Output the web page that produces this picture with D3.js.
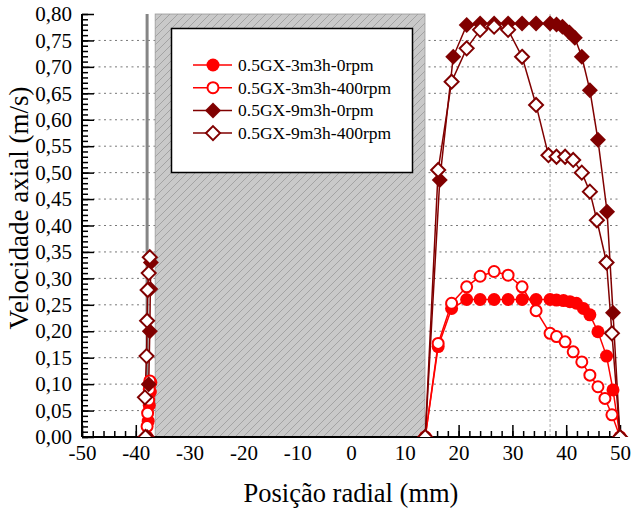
<!DOCTYPE html>
<html><head><meta charset="utf-8">
<script src="https://cdn.jsdelivr.net/npm/d3@7"></script>
<style>body{margin:0;background:#fff} svg text{font-family:"Liberation Serif","Times New Roman",Times,serif;}</style>
</head><body>
<svg id="chart" width="638" height="510"></svg>
<script>
const seriesNames = ["0.5GX-3m3h-0rpm","0.5GX-3m3h-400rpm","0.5GX-9m3h-0rpm","0.5GX-9m3h-400rpm"];
const xTickValues = [-50,-40,-30,-20,-10,0,10,20,30,40,50];
const yTickValues = [0,0.05,0.10,0.15,0.20,0.25,0.30,0.35,0.40,0.45,0.50,0.55,0.60,0.65,0.70,0.75,0.80];
const gridY = [0.05,0.10,0.15,0.20,0.25,0.30,0.35,0.40,0.45,0.50,0.55,0.60,0.65,0.70,0.75];
const gridX = [37];
const wallX = -37.9;
const solidRegion = [-36.4, 13.75];

const s1Left = [[-37.9,0],[-37.7,0.03],[-37.5,0.06],[-37.3,0.085],[-37.2,0.103]];
const s2Left = [[-38.0,0],[-37.9,0.02],[-37.8,0.045],[-37.6,0.07],[-37.5,0.09],[-37.4,0.106]];
const s3Left = [[-37.9,0],[-37.6,0.1],[-37.4,0.2],[-37.3,0.28],[-37.2,0.33]];
const s4Left = [[-38.2,0],[-38.3,0.075],[-38.0,0.153],[-37.9,0.22],[-37.8,0.278],[-37.6,0.31],[-37.4,0.34]];

const s1Right = [[13.8,0],[16.2,0.171],[18.7,0.243],[21.5,0.260],[24.0,0.260],[26.6,0.260],[29.2,0.260],[31.8,0.260],[34.4,0.260],[37.0,0.260],[38.2,0.259],[39.5,0.258],[40.7,0.256],[41.9,0.253],[43.2,0.243],[44.4,0.231],[45.9,0.199],[47.5,0.153],[48.7,0.089],[50,0]];
const s2Right = [[13.8,0],[16.2,0.177],[18.7,0.253],[21.5,0.284],[24.0,0.304],[26.6,0.313],[29.2,0.306],[31.8,0.284],[34.4,0.239],[37.0,0.196],[38.2,0.190],[39.8,0.180],[41.3,0.161],[42.9,0.142],[44.4,0.117],[45.9,0.095],[47.2,0.073],[48.5,0.042],[50,0]];
const s3Right = [[13.8,0],[16.5,0.486],[19.0,0.719],[21.5,0.779],[24.0,0.782],[26.6,0.782],[29.2,0.782],[31.8,0.782],[34.4,0.782],[37.0,0.782],[38.2,0.780],[39.3,0.776],[40.6,0.765],[41.6,0.755],[42.9,0.719],[44.4,0.656],[45.9,0.562],[47.6,0.426],[48.7,0.235],[50,0]];
const s4Right = [[13.8,0],[16.2,0.505],[18.7,0.672],[21.5,0.735],[24.0,0.770],[26.6,0.776],[29.2,0.770],[31.8,0.719],[34.4,0.628],[36.7,0.533],[38.2,0.530],[39.8,0.530],[41.3,0.524],[42.9,0.500],[44.4,0.464],[45.7,0.410],[47.5,0.330],[48.5,0.196],[50,0]];

const svg = d3.select("#chart");
const L = 82, R = 620, T = 14, B = 437;
const x = d3.scaleLinear().domain([-50,50]).range([L,R]);
const y = d3.scaleLinear().domain([0,0.8]).range([B,T]);
const font = '"Liberation Serif","Times New Roman",Times,serif';

const defs = svg.append("defs");
const pat = defs.append("pattern").attr("id","hatch").attr("patternUnits","userSpaceOnUse").attr("width",8).attr("height",8);
pat.append("rect").attr("width",8).attr("height",8).attr("fill","#c9c9c9");
pat.append("path").attr("d","M0,8 L8,0 M-2,2 L2,-2 M6,10 L10,6").attr("stroke","#a3a3a3").attr("stroke-width",1);
defs.append("clipPath").attr("id","plotclip").append("rect").attr("x",L).attr("y",T-10).attr("width",R-L+10).attr("height",B-T+10);

// grid
svg.append("g").selectAll("line").data(gridY).join("line")
  .attr("x1",L).attr("x2",R).attr("y1",d=>y(d)).attr("y2",d=>y(d))
  .attr("stroke","#777").attr("stroke-width",1).attr("stroke-dasharray","2,3.5");
svg.append("g").selectAll("line").data(gridX).join("line")
  .attr("x1",d=>x(d)).attr("x2",d=>x(d)).attr("y1",T).attr("y2",B)
  .attr("stroke","#aaa").attr("stroke-width",1).attr("stroke-dasharray","3,2");

// axes
const xMinor = d3.range(-50,51,2);
const yMinor = d3.range(0,81,1).map(d=>d/100);
const gxm = svg.append("g").attr("transform",`translate(0,${B})`)
  .call(d3.axisBottom(x).tickValues(xMinor).tickSize(-6).tickFormat(""));
const gx = svg.append("g").attr("transform",`translate(0,${B})`)
  .call(d3.axisBottom(x).tickValues(xTickValues).tickSize(-12).tickPadding(8).tickFormat(d=>String(d)));
const gym = svg.append("g").attr("transform",`translate(${L},0)`)
  .call(d3.axisLeft(y).tickValues(yMinor).tickSize(-6).tickFormat(""));
const gy = svg.append("g").attr("transform",`translate(${L},0)`)
  .call(d3.axisLeft(y).tickValues(yTickValues).tickSize(-12).tickPadding(10).tickFormat(d=>d3.format(".2f")(d).replace(".",",")));
[gxm,gx,gym,gy].forEach(g=>{
  g.attr("font-family",null).attr("font-size",null);
  g.selectAll(".domain").remove();
  g.selectAll(".tick line").attr("stroke","#000").attr("stroke-width",1.5);
  g.selectAll("text").style("font-family",font).style("font-size","21px").attr("fill","#000");
});

// solid region and wall
svg.append("rect").attr("x",x(solidRegion[0])).attr("y",T).attr("width",x(solidRegion[1])-x(solidRegion[0])).attr("height",B-T)
  .attr("fill","url(#hatch)").attr("stroke","#999").attr("stroke-width",0.8);
svg.append("line").attr("x1",x(wallX)).attr("x2",x(wallX)).attr("y1",T).attr("y2",B).attr("stroke","#858585").attr("stroke-width",3);

// axis lines
svg.append("line").attr("x1",L).attr("x2",R).attr("y1",B).attr("y2",B).attr("stroke","#000").attr("stroke-width",2);
svg.append("line").attr("x1",L).attr("x2",L).attr("y1",T).attr("y2",B).attr("stroke","#000").attr("stroke-width",2);

// series
const red = "#ff0000", dark = "#800000";
const series = [
  {name:seriesNames[0], parts:[s1Left,s1Right], color:red, shape:"circle", fill:true},
  {name:seriesNames[1], parts:[s2Left,s2Right], color:red, shape:"circle", fill:false},
  {name:seriesNames[2], parts:[s3Left,s3Right], color:dark, shape:"diamond", fill:true},
  {name:seriesNames[3], parts:[s4Left,s4Right], color:dark, shape:"diamond", fill:false}
];
const line = d3.line().x(d=>x(d[0])).y(d=>y(d[1]));
const circ = d3.symbol().type(d3.symbolCircle).size(Math.PI*6.5*6.5)();
const circO = d3.symbol().type(d3.symbolCircle).size(Math.PI*5.5*5.5)();
const diam = "M0,-8L8,0L0,8L-8,0Z";
const diamO = "M0,-7L7,0L0,7L-7,0Z";
function marker(g, s, px, py){
  const p = s.shape==="circle" ? (s.fill?circ:circO) : (s.fill?diam:diamO);
  g.append("path").attr("d",p).attr("transform",`translate(${px},${py})`)
    .attr("fill", s.fill ? s.color : "#fff").attr("stroke", s.color).attr("stroke-width", s.fill?0:2);
}
const plot = svg.append("g").attr("clip-path","url(#plotclip)");
series.forEach(s=>{
  s.parts.forEach(pts=>{
    plot.append("path").attr("d",line(pts)).attr("fill","none").attr("stroke",s.color).attr("stroke-width",1.5);
  });
});
series.forEach(s=>{
  s.parts.forEach(pts=>{
    pts.forEach(d=>marker(plot, s, x(d[0]), y(d[1])));
  });
});

// legend
const lg = svg.append("g");
lg.append("rect").attr("x",171.5).attr("y",28.5).attr("width",241).attr("height",144).attr("fill","#fff").attr("stroke","#000").attr("stroke-width",1.5);
series.forEach((s,i)=>{
  const cy = 65 + i*22.7;
  lg.append("line").attr("x1",193).attr("x2",232).attr("y1",cy).attr("y2",cy).attr("stroke",s.color).attr("stroke-width",1.5);
  marker(lg, s, 213, cy);
  lg.append("text").attr("x",238).attr("y",cy+6).style("font-family",font).style("font-size","17.5px").attr("fill","#000").text(s.name);
});

// titles
svg.append("text").attr("x",351).attr("y",502).attr("text-anchor","middle").style("font-family",font).style("font-size","26.5px").attr("fill","#000").text("Posição radial (mm)");
svg.append("text").attr("transform","translate(28,208) rotate(-90)").attr("text-anchor","middle").style("font-family",font).style("font-size","27px").attr("fill","#000").text("Velocidade axial (m/s)");
</script>
</body></html>
